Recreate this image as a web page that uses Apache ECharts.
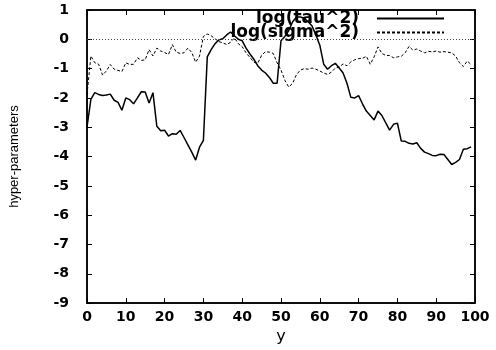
<!DOCTYPE html>
<html>
<head>
<meta charset="utf-8">
<script src="https://cdn.jsdelivr.net/npm/echarts@6/dist/echarts.min.js"></script>
<style>
html,body{margin:0;padding:0;background:#fff;}
#chart{width:496px;height:350px;}
</style>
</head>
<body>
<div id="chart"></div>
<script>
const seriesNames = ['log(tau^2)', 'log(sigma^2)'];
const tauValues = [
  -3.0, -2.05, -1.82, -1.88, -1.92, -1.9, -1.87, -2.08, -2.15, -2.42,
  -2.0, -2.06, -2.2, -2.0, -1.79, -1.8, -2.17, -1.82, -2.97, -3.12,
  -3.1, -3.3, -3.22, -3.24, -3.11, -3.35, -3.6, -3.85, -4.12, -3.68,
  -3.45, -0.6, -0.35, -0.15, -0.02, 0.02, 0.15, 0.25, 0.12, 0.0,
  -0.05, -0.3, -0.5, -0.68, -0.9, -1.05, -1.15, -1.3, -1.5, -1.5,
  -0.05, 0.1, 0.3, 0.6, 0.76, 0.76, 0.72, 0.6, 0.45, 0.15,
  -0.2, -0.85, -1.02, -0.9, -0.82, -0.98, -1.15, -1.5, -1.98, -2.0,
  -1.92, -2.2, -2.45, -2.6, -2.75, -2.45, -2.6, -2.85, -3.1, -2.9,
  -2.86, -3.47, -3.48, -3.55, -3.57, -3.53, -3.72, -3.85, -3.9, -3.96,
  -3.97, -3.92, -3.93, -4.1, -4.27, -4.2, -4.1, -3.75, -3.73, -3.67
];
const sigmaValues = [
  -1.9, -0.57, -0.8, -0.85, -1.22, -1.08, -0.86, -1.02, -1.06, -1.1,
  -0.8, -0.86, -0.85, -0.63, -0.72, -0.7, -0.35, -0.57, -0.3, -0.4,
  -0.45, -0.52, -0.18, -0.44, -0.48, -0.46, -0.3, -0.45, -0.78, -0.57,
  0.1, 0.18, 0.12, 0.02, -0.08, -0.12, -0.18, -0.1, 0.05, -0.15,
  -0.25, -0.46, -0.62, -0.78, -0.82, -0.55, -0.42, -0.44, -0.48, -0.8,
  -1.05, -1.4, -1.63, -1.5, -1.2, -1.05, -1.0, -1.02, -0.98, -1.02,
  -1.08, -1.15, -1.2, -1.12, -0.98, -0.95, -0.84, -0.9, -0.77, -0.7,
  -0.66, -0.65, -0.58, -0.85, -0.6, -0.26, -0.48, -0.55, -0.55, -0.63,
  -0.6, -0.58, -0.46, -0.24, -0.37, -0.33, -0.4, -0.46, -0.41, -0.43,
  -0.4, -0.44, -0.42, -0.44, -0.46, -0.57, -0.8, -0.93, -0.74, -0.86
];
const xTicks = [0, 10, 20, 30, 40, 50, 60, 70, 80, 90, 100];
const yTicks = [-9, -8, -7, -6, -5, -4, -3, -2, -1, 0, 1];
const xName = 'y';
const yName = 'hyper-parameters';

const toPairs = vals => vals.map((v, i) => [i, v]);
const tickFont = () => ({fontFamily: 'DejaVu Sans', fontWeight: 'bold', fontSize: 14, color: '#000'});
const axisLineStyle = () => ({show: true, onZero: false, lineStyle: {color: '#000', width: 1.5}});
const tickIn = () => ({show: true, inside: true, length: 5, lineStyle: {color: '#000', width: 1}});
const xMin = xTicks[0], xMax = xTicks[xTicks.length - 1];
const yMin = yTicks[0], yMax = yTicks[yTicks.length - 1];

const chart = echarts.init(document.getElementById('chart'), null, {renderer: 'canvas'});
chart.setOption({
  animation: false,
  backgroundColor: '#fff',
  grid: {left: 87, right: 21, top: 10, bottom: 41, show: true, borderColor: '#000', borderWidth: 1.5, backgroundColor: 'transparent'},
  legend: {
    data: seriesNames,
    orient: 'vertical',
    align: 'right',
    right: 46,
    top: 5,
    itemWidth: 67,
    itemHeight: 13,
    itemGap: -3,
    selectedMode: false,
    itemStyle: {color: 'rgba(0,0,0,0)', borderWidth: 0, opacity: 0},
    textStyle: {fontFamily: 'DejaVu Sans', fontWeight: 'bold', fontSize: 17, color: '#000', padding: [0, 13, 0, 0]}
  },
  xAxis: [{
    type: 'value', position: 'bottom', min: xMin, max: xMax, interval: 10,
    name: xName, nameLocation: 'middle', nameGap: 22,
    nameTextStyle: {fontFamily: 'DejaVu Sans', fontSize: 16, color: '#000'},
    axisLine: axisLineStyle(), axisTick: tickIn(), splitLine: {show: false},
    axisLabel: Object.assign({margin: 7}, tickFont())
  }, {
    type: 'value', position: 'top', min: xMin, max: xMax, interval: 10,
    axisLine: axisLineStyle(), axisTick: tickIn(), splitLine: {show: false},
    axisLabel: {show: true, formatter: () => ''}
  }],
  yAxis: [{
    type: 'value', position: 'left', min: yMin, max: yMax, interval: 1,
    name: yName, nameLocation: 'middle', nameGap: 66, nameRotate: 90,
    nameTextStyle: {fontFamily: 'Liberation Sans Narrow, Liberation Sans', fontSize: 13, color: '#000'},
    axisLine: axisLineStyle(), axisTick: tickIn(), splitLine: {show: false},
    axisLabel: Object.assign({margin: 18}, tickFont())
  }, {
    type: 'value', position: 'right', min: yMin, max: yMax, interval: 1,
    axisLine: axisLineStyle(), axisTick: tickIn(), splitLine: {show: false},
    axisLabel: {show: true, formatter: () => ''}
  }],
  series: [{
    name: seriesNames[0], type: 'line', data: toPairs(tauValues),
    xAxisIndex: 0, yAxisIndex: 0,
    symbol: 'none', lineStyle: {color: '#000', width: 1.5, type: 'solid'},
    itemStyle: {color: '#000'},
    markLine: {
      silent: true, symbol: 'none', label: {show: false},
      lineStyle: {color: '#444', type: [1, 2], width: 1},
      data: [{yAxis: 0}]
    }
  }, {
    name: seriesNames[1], type: 'line', data: toPairs(sigmaValues),
    xAxisIndex: 1, yAxisIndex: 1,
    symbol: 'none', lineStyle: {color: '#000', width: 1, type: [3, 2]},
    itemStyle: {color: '#000'}
  }]
});
</script>
</body>
</html>
